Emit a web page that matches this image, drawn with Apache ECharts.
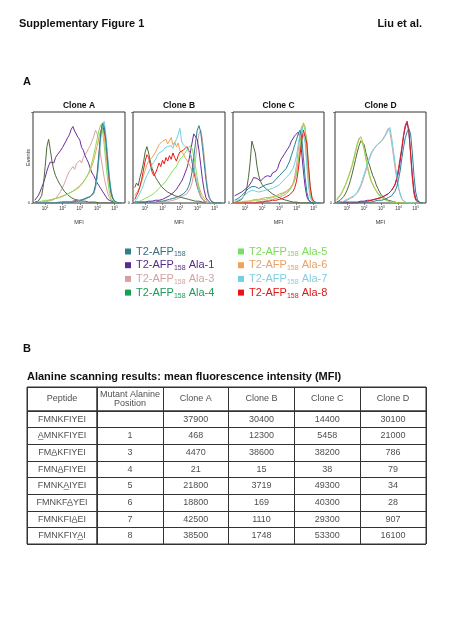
<!DOCTYPE html>
<html><head><meta charset="utf-8">
<script src="https://cdn.jsdelivr.net/npm/echarts@6/dist/echarts.min.js"></script>
<style>html,body{margin:0;padding:0;background:#fff}#c{width:450px;height:619px}</style>
</head><body><div id="c"></div>
<script>
const FONT = '"Liberation Sans", Arial, Helvetica, sans-serif';

// ---------- histogram x bins (log10 of MFI) ----------
const logBins = [0.4,0.5,0.6,0.7,0.8,0.9,1.0,1.1,1.2,1.3,
  1.4,1.5,1.6,1.7,1.8,1.9,2.0,2.1,2.2,2.3,
  2.4,2.5,2.6,2.7,2.8,2.9,3.0,3.1,3.2,3.3,
  3.4,3.5,3.6,3.7,3.8,3.9,4.0,4.1,4.2,4.3,
  4.4,4.5,4.6,4.7,4.8,4.9,5.0,5.1,5.2,5.3,
  5.4];
const xTickValues = [1,2,3,4,5];
const cloneTitles = ['Clone A','Clone B','Clone C','Clone D'];

const legendNames = ['T2-AFP158','T2-AFP158 Ala-1','T2-AFP158 Ala-3','T2-AFP158 Ala-4',
  'T2-AFP158 Ala-5','T2-AFP158 Ala-6','T2-AFP158 Ala-7','T2-AFP158 Ala-8'];

// ---------- Clone A histograms (% of max) ----------
const cloneA_T2 = [0,0,0,0,0,0,0,0,0,0, 0,0,0,0,1,0,1,1,1,1, 1,2,1,2,2,3,2,3,4,5, 6,8,7,9,12,20,34,55,76,88, 84,68,45,25,11,5,2,1,0,0, 0];
const cloneA_Ala1 = [3,5,8,12,17,22,28,35,41,45, 47,44,50,53,51,58,61,59,68,72, 75,81,84,79,77,72,69,61,58,52, 48,44,38,33,30,26,22,19,16,13, 10,7,4,3,2,1,1,0,0,0, 0];
const cloneA_Ala3 = [0,0,0,0,0,1,1,1,2,2, 3,4,5,7,10,13,17,21,26,31, 35,37,40,37,43,44,47,44,50,53, 56,60,63,68,73,80,76,68,52,40, 28,19,11,6,3,2,1,0,0,0, 0];
const cloneA_Ala4 = [1,1,2,4,8,20,40,62,70,58, 45,36,30,26,22,19,16,13,11,9, 8,6,5,4,4,3,3,2,2,2, 1,1,1,1,1,1,1,0,0,0, 0,0,0,0,0,0,0,0,0,0, 0];
const cloneA_Ala5 = [0,0,1,1,2,2,3,3,3,4, 4,5,5,6,6,7,8,8,9,10, 11,12,13,14,15,16,18,20,23,26, 29,33,38,45,53,62,71,80,86,80, 64,44,25,12,5,2,1,0,0,0, 0];
const cloneA_Ala6 = [0,0,1,1,1,2,2,3,3,3, 4,4,5,5,6,6,7,8,9,10, 11,12,13,15,16,17,19,21,23,26, 29,32,36,41,47,55,63,72,80,83, 74,56,36,19,9,4,2,1,0,0, 0];
const cloneA_Ala7 = [0,0,0,0,0,0,0,0,0,0, 0,0,0,0,0,0,1,1,1,1, 1,1,2,2,2,2,3,3,3,4, 5,6,7,8,10,16,28,47,70,85, 90,75,52,30,14,6,2,1,0,0, 0];
const cloneA_Ala8 = [0,0,0,0,0,0,0,0,0,0, 0,0,0,0,0,1,1,1,1,1, 1,2,2,2,3,3,3,4,4,5, 5,6,7,9,11,18,30,52,74,87, 86,70,47,27,12,5,2,1,0,0, 0];

// ---------- Clone B ----------
const cloneB_T2 = [1,1,1,1,1,1,1,1,1,1, 1,1,1,2,2,2,2,3,3,3, 4,4,5,5,6,7,8,9,10,12, 14,18,24,34,50,66,80,85,78,62, 44,26,12,5,2,1,0,0,0,0, 0];
const cloneB_Ala1 = [1,1,1,1,1,1,1,1,2,2, 2,2,3,3,3,4,4,5,6,7, 8,10,11,13,15,18,20,24,28,33, 38,45,55,66,76,78,70,58,42,26, 14,6,3,1,0,0,0,0,0,0, 0];
const cloneB_Ala3 = [0,0,0,0,0,0,0,0,0,0, 0,0,0,1,1,1,1,1,2,2, 2,3,3,4,4,5,6,7,8,9, 10,12,16,22,32,48,64,76,80,70, 52,32,16,7,3,1,0,0,0,0, 0];
const cloneB_Ala4 = [17,22,19,28,35,44,56,62,55,46, 38,33,28,25,22,19,17,15,13,12, 11,10,9,8,7,7,6,6,5,5, 4,4,3,3,3,2,2,2,1,1, 1,1,0,0,0,0,0,0,0,0, 0];
const cloneB_Ala5 = [0,1,1,2,3,4,5,6,7,8, 9,10,12,14,16,18,20,22,24,27, 30,33,36,38,40,44,48,50,52,55, 58,60,63,60,52,40,28,16,8,4, 2,1,0,0,0,0,0,0,0,0, 0];
const cloneB_Ala6 = [8,10,14,18,24,30,36,42,46,48, 50,52,56,60,64,62,68,66,70,65, 68,72,64,67,62,66,58,60,54,50, 47,44,40,36,32,28,24,18,12,8, 5,3,2,1,0,0,0,0,0,0, 0];
const cloneB_Ala7 = [2,4,7,11,15,20,26,30,34,38, 42,45,48,52,55,54,57,60,58,62, 60,63,60,66,70,75,82,68,64,62, 60,57,54,48,40,30,20,12,7,4, 2,1,1,0,0,0,0,0,0,0, 0];
const cloneB_Ala8 = [4,8,12,18,26,36,46,53,50,42, 34,30,33,38,44,40,47,43,50,46, 52,48,55,50,46,52,56,54,58,60, 62,58,55,45,36,26,18,12,7,4, 2,1,1,0,0,0,0,0,0,0, 0];

// ---------- Clone C ----------
const cloneC_T2 = [3,4,5,6,8,10,12,14,16,17, 18,19,18,17,16,17,18,19,20,20, 21,22,22,24,26,28,30,32,34,36, 38,42,46,52,58,64,70,76,80,72, 50,28,12,4,1,0,0,0,0,0, 0];
const cloneC_Ala1 = [8,9,10,11,12,13,15,16,18,20, 24,28,30,27,25,24,26,28,29,30, 31,29,33,32,35,38,44,48,50,54, 55,60,63,68,70,74,76,78,72,55, 35,18,7,3,1,0,0,0,0,0, 0];
const cloneC_Ala3 = [0,0,0,0,0,0,0,0,0,0, 0,0,1,1,1,1,2,2,2,3, 3,3,4,4,5,5,6,7,8,9, 10,12,14,17,22,30,42,58,74,84, 86,72,46,22,8,3,1,0,0,0, 0];
const cloneC_Ala4 = [1,1,2,3,4,6,10,16,28,45, 68,70,55,40,30,24,20,18,16,14, 13,12,10,9,8,7,6,5,4,3, 3,2,2,2,1,1,1,1,0,0, 0,0,0,0,0,0,0,0,0,0, 0];
const cloneC_Ala5 = [0,0,0,1,1,1,1,2,2,2, 2,3,3,3,3,4,4,4,4,5, 5,5,6,6,7,7,8,9,10,11, 12,13,15,17,20,25,32,44,60,76, 88,90,70,40,16,5,2,1,0,0, 0];
const cloneC_Ala6 = [0,0,1,1,1,1,2,2,2,3, 3,3,4,4,4,5,5,5,6,6, 6,7,7,8,8,9,10,10,11,12, 13,14,16,18,21,26,34,46,62,78, 88,84,60,32,12,4,1,0,0,0, 0];
const cloneC_Ala7 = [1,2,3,4,5,7,9,11,12,13, 14,14,13,12,12,12,13,13,14,14, 15,15,16,17,18,19,20,22,24,26, 28,30,32,35,38,44,52,64,76,84, 82,66,40,18,6,2,1,0,0,0, 0];
const cloneC_Ala8 = [0,0,0,0,0,0,0,0,0,0, 0,0,0,1,1,1,1,1,2,2, 2,2,3,3,3,4,4,5,5,6, 7,8,9,11,13,17,24,36,52,68, 80,82,66,40,18,6,2,1,0,0, 0];

// ---------- Clone D ----------
const cloneD_T2 = [0,0,0,0,0,0,0,0,0,0, 0,0,0,0,1,1,1,1,1,1, 1,2,2,2,3,3,3,4,4,5, 6,7,8,10,13,18,26,36,50,62, 72,78,82,76,56,30,12,4,1,0, 0];
const cloneD_Ala1 = [1,1,1,1,1,1,1,1,1,1, 1,1,1,2,2,2,2,3,3,3, 3,4,4,5,5,6,6,7,8,9, 10,12,14,16,20,26,34,46,60,74, 84,88,78,56,32,14,5,2,1,0, 0];
const cloneD_Ala3 = [0,0,1,1,1,2,3,4,5,6, 7,9,11,14,18,23,29,35,42,48, 53,57,60,62,65,64,68,71,74,78, 82,78,66,52,38,26,16,9,4,2, 1,0,0,0,0,0,0,0,0,0, 0];
const cloneD_Ala4 = [1,2,3,5,7,10,14,19,25,32, 40,48,56,63,68,70,64,55,48,42, 36,30,26,20,16,12,9,7,5,4, 3,2,2,1,1,1,0,0,0,0, 0,0,0,0,0,0,0,0,0,0, 0];
const cloneD_Ala5 = [4,6,9,12,16,20,25,30,36,42, 50,58,66,71,72,66,58,48,38,30, 24,20,16,13,10,8,6,5,4,3, 2,2,1,1,1,1,0,0,0,0, 0,0,0,0,0,0,0,0,0,0, 0];
const cloneD_Ala6 = [3,5,8,11,15,19,24,29,35,41, 48,56,64,70,73,68,60,50,40,32, 25,21,17,14,11,9,7,5,4,3, 2,2,1,1,1,0,0,0,0,0, 0,0,0,0,0,0,0,0,0,0, 0];
const cloneD_Ala7 = [0,0,1,1,2,3,4,5,6,7, 8,10,12,16,20,26,32,38,44,50, 55,58,60,63,62,66,68,70,72,76, 80,83,72,58,44,30,18,10,5,2, 1,0,0,0,0,0,0,0,0,0, 0];
const cloneD_Ala8 = [0,0,0,0,0,0,0,0,0,0, 0,0,0,1,1,1,1,2,2,2, 3,3,4,4,5,5,6,7,8,9, 10,12,14,17,21,28,38,50,62,76, 86,90,80,54,28,10,3,1,0,0, 0];

// ---------- Table B ----------
const tableHeader = ['Peptide','Mutant Alanine\nPosition','Clone A','Clone B','Clone C','Clone D'];
const peptides = ['FMNKFIYEI','AMNKFIYEI','FMAKFIYEI','FMNAFIYEI','FMNKAIYEI','FMNKFAYEI','FMNKFIAEI','FMNKFIYAI'];
const mutantPosition = [null,1,3,4,5,6,7,8];
const mfiCloneA = [37900,468,4470,21,21800,18800,42500,38500];
const mfiCloneB = [30400,12300,38600,15,3719,169,1110,1748];
const mfiCloneC = [14400,5458,38200,38,49300,40300,29300,53300];
const mfiCloneD = [30100,21000,786,79,34,28,907,16100];

// ---------- styling ----------
const lineColors = ['#2c7f92','#6a2c9c','#d6a3a3','#4d6a3a','#86dd5c','#f0a050','#6fd0e2','#e51a1a'];
const legendIconColors = ['#2f7e8e','#5c2a90','#d8a0a0','#17a052','#78e060','#f2a255','#72d0e0','#ee1212'];
const legendTextColors = ['#3a6e7e','#582a88','#d2a2a2','#1f9a5a','#7ed95c','#e9a062','#7fcfe0','#e01818'];

const panelData = [
  [cloneA_T2,cloneA_Ala1,cloneA_Ala3,cloneA_Ala4,cloneA_Ala5,cloneA_Ala6,cloneA_Ala7,cloneA_Ala8],
  [cloneB_T2,cloneB_Ala1,cloneB_Ala3,cloneB_Ala4,cloneB_Ala5,cloneB_Ala6,cloneB_Ala7,cloneB_Ala8],
  [cloneC_T2,cloneC_Ala1,cloneC_Ala3,cloneC_Ala4,cloneC_Ala5,cloneC_Ala6,cloneC_Ala7,cloneC_Ala8],
  [cloneD_T2,cloneD_Ala1,cloneD_Ala3,cloneD_Ala4,cloneD_Ala5,cloneD_Ala6,cloneD_Ala7,cloneD_Ala8]
];
const panelBoxes = [[33,92],[133,92],[233,91],[335,91]];
const panelTop = 112, panelHeight = 91;
const drawOrder = [2,1,3,5,4,7,6,0];

const grids = [], xAxes = [], yAxes = [], series = [];
panelBoxes.forEach((b, g) => {
  grids.push({left: b[0], top: panelTop, width: b[1], height: panelHeight, show: true,
    borderColor: '#333', borderWidth: 1, backgroundColor: 'transparent'});
  xAxes.push({gridIndex: g, type: 'value', min: 0.3, max: 5.6,
    axisLine: {show: false}, splitLine: {show: false},
    axisTick: {show: true, customValues: xTickValues, length: 2, lineStyle: {color: '#444', width: 0.6}},
    axisLabel: {customValues: xTickValues, margin: 3, color: '#333',
      formatter: v => '{b|10}{s|' + v + '}',
      rich: {b: {fontSize: 4.5, fontFamily: FONT, color: '#333'}, s: {fontSize: 3, fontFamily: FONT, color: '#333', verticalAlign: 'top', lineHeight: 4}}},
    name: 'MFI', nameLocation: 'middle', nameGap: 16, nameMoveOverlap: false,
    nameTextStyle: {fontSize: 5.5, fontFamily: FONT, color: '#333'}});
  yAxes.push({gridIndex: g, type: 'value', min: 0, max: 100, interval: 100,
    axisLine: {show: false}, splitLine: {show: false},
    axisTick: {show: true, length: 2, lineStyle: {color: '#444', width: 0.6}},
    axisLabel: {formatter: v => (v === 0 ? '0' : ''), fontSize: 4, margin: 3, color: '#333', fontFamily: FONT},
    name: g === 0 ? 'Events' : '', nameLocation: 'middle', nameGap: 2, nameMoveOverlap: false,
    nameTextStyle: {fontSize: 5.5, fontFamily: FONT, color: '#333'}});
  drawOrder.forEach(k => {
    series.push({type: 'line', name: legendNames[k], xAxisIndex: g, yAxisIndex: g,
      data: logBins.map((x, i) => [x, panelData[g][k][i]]),
      symbol: 'none', silent: true, smooth: false,
      lineStyle: {width: 1, color: lineColors[k]}, itemStyle: {color: lineColors[k]}});
  });
});

// ---------- table grids ----------
const tableLeft = 27, firstColW = 70, otherColsW = 329, headTop = 387, headH = 24, bodyTop = 411, bodyH = 133;
const tGrid = (left, width, top, height) => ({left, top, width, height, show: true, borderColor: '#333', borderWidth: 1, backgroundColor: 'transparent'});
grids.push(tGrid(tableLeft, firstColW, headTop, headH));            // 4
grids.push(tGrid(tableLeft + firstColW, otherColsW, headTop, headH)); // 5
grids.push(tGrid(tableLeft, firstColW, bodyTop, bodyH));            // 6
grids.push(tGrid(tableLeft + firstColW, otherColsW, bodyTop, bodyH)); // 7
const catAxis = (gi, n, inverse) => ({gridIndex: gi, type: 'category', data: Array.from({length: n}, (_, i) => String(i)),
  inverse: !!inverse, boundaryGap: true, axisLine: {show: false}, axisTick: {show: false}, axisLabel: {show: false},
  splitLine: {show: true, interval: 0, lineStyle: {color: '#333', width: 1}}});
xAxes.push(catAxis(4, 1)); xAxes.push(catAxis(5, 5)); xAxes.push(catAxis(6, 1)); xAxes.push(catAxis(7, 5));
yAxes.push(catAxis(4, 1, true)); yAxes.push(catAxis(5, 1, true)); yAxes.push(catAxis(6, 8, true)); yAxes.push(catAxis(7, 8, true));

const cellLabel = {show: true, position: 'inside', formatter: p => p.data.txt, fontSize: 9, lineHeight: 9.5,
  fontFamily: FONT, color: '#1a1a1a', align: 'center', verticalAlign: 'middle'};
const cellSeries = (gi, data) => ({type: 'scatter', xAxisIndex: gi, yAxisIndex: gi, symbolSize: 1, silent: true,
  itemStyle: {color: 'rgba(0,0,0,0)'}, label: cellLabel, data});
series.push(cellSeries(4, [{value: [0, 0], txt: tableHeader[0]}]));
series.push(cellSeries(5, tableHeader.slice(1).map((t, c) => ({value: [c, 0], txt: t}))));
series.push(cellSeries(6, peptides.map((p, r) => {
  const k = mutantPosition[r] == null ? -1 : mutantPosition[r] - 1;
  const txt = k < 0 ? p : p.slice(0, k + 1) + '\u0332' + p.slice(k + 1);
  return {value: [0, r], txt};
})));
const bodyCells = [];
peptides.forEach((p, r) => {
  bodyCells.push({value: [0, r], txt: mutantPosition[r] == null ? '' : String(mutantPosition[r])});
  [mfiCloneA, mfiCloneB, mfiCloneC, mfiCloneD].forEach((arr, c) => bodyCells.push({value: [c + 1, r], txt: String(arr[r])}));
});
series.push(cellSeries(7, bodyCells));

// ---------- legend ----------
const legendItem = k => ({name: legendNames[k], itemStyle: {color: legendIconColors[k]},
  textStyle: {color: legendTextColors[k], rich: {
    a: {fontSize: 11, lineHeight: 13, fontFamily: FONT, color: legendTextColors[k]},
    s: {fontSize: 7, lineHeight: 7, verticalAlign: 'bottom', fontFamily: FONT, color: legendTextColors[k]}}}});
const legendFmt = name => { const rest = name.slice(9); return '{a|T2-AFP}{s|158}' + (rest ? '{a|' + rest + '}' : ''); };
const legendBase = {orient: 'vertical', top: 246, itemGap: 1.7, itemWidth: 6, itemHeight: 6, icon: 'rect',
  selectedMode: false, formatter: legendFmt, padding: 0,
  textStyle: {fontSize: 11, fontFamily: FONT, rich: {a: {fontSize: 11, lineHeight: 13, fontFamily: FONT}, s: {fontSize: 7, lineHeight: 7, verticalAlign: 'bottom', fontFamily: FONT}}}};

const txt = (x, y, text, font, align) => ({type: 'text', x, y, silent: true,
  style: {text, font, fill: '#111', align: align || 'left', verticalAlign: 'middle'}});

const option = {
  animation: false,
  backgroundColor: '#fff',
  grid: grids, xAxis: xAxes, yAxis: yAxes, series,
  legend: [
    Object.assign({}, legendBase, {left: 125, data: [0,1,2,3].map(legendItem)}),
    Object.assign({}, legendBase, {left: 238, data: [4,5,6,7].map(legendItem)})
  ],
  graphic: [
    txt(19, 24, 'Supplementary Figure 1', 'bold 11px ' + FONT),
    txt(422, 24, 'Liu et al.', 'bold 11px ' + FONT, 'right'),
    txt(23, 82, 'A', 'bold 11px ' + FONT),
    txt(23, 349, 'B', 'bold 11px ' + FONT),
    txt(27, 377, 'Alanine scanning results: mean fluorescence intensity (MFI)', 'bold 11px ' + FONT)
  ].concat(cloneTitles.map((t, g) => txt(panelBoxes[g][0] + panelBoxes[g][1] / 2, 105.5, t, 'bold 8.5px ' + FONT, 'center')))
};
const chart = echarts.init(document.getElementById('c'), null, {renderer: 'canvas', width: 450, height: 619});
chart.setOption(option);
</script></body></html>
